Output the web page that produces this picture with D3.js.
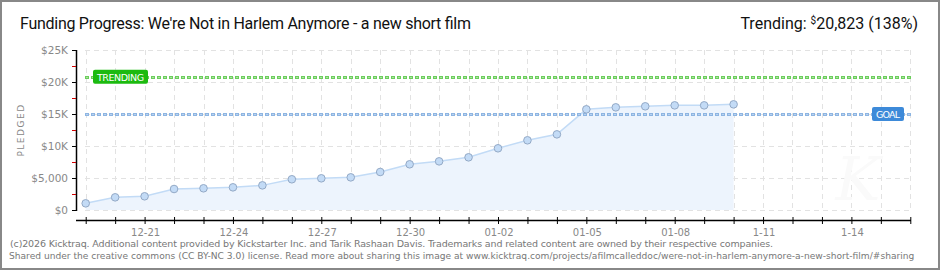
<!DOCTYPE html>
<html>
<head>
<meta charset="utf-8">
<script src="https://cdn.jsdelivr.net/npm/d3@7"></script>
<style>
  body { margin: 0; background: #fff; }
  svg { display: block; }
</style>
</head>
<body>
<div id="chart"></div>
<script>
// daily pledged totals, 12-19 .. 01-10
var days = ["2012-12-19","2012-12-20","2012-12-21","2012-12-22","2012-12-23","2012-12-24","2012-12-25",
  "2012-12-26","2012-12-27","2012-12-28","2012-12-29","2012-12-30","2012-12-31","2013-01-01",
  "2013-01-02","2013-01-03","2013-01-04","2013-01-05","2013-01-06","2013-01-07","2013-01-08",
  "2013-01-09","2013-01-10"];
var pledged = [1040, 1980, 2140, 3280, 3390, 3540, 3850, 4800, 4950, 5100, 5940, 7140,
  7600, 8230, 9640, 10890, 11820, 15730, 16040, 16200, 16350, 16350, 16510];
var goal = 15000;
var trending = 20823;
var yTicks = [0, 5000, 10000, 15000, 20000, 25000];
var yTickLabels = ["$0", "$5,000", "$10K", "$15K", "$20K", "$25K"];
var xLabelDays = ["2012-12-21","2012-12-24","2012-12-27","2012-12-30","2013-01-02",
  "2013-01-05","2013-01-08","2013-01-11","2013-01-14"];
var xLabels = ["12-21","12-24","12-27","12-30","01-02","01-05","01-08","1-11","1-14"];

var W = 940, H = 270;
var parse = d3.timeParse("%Y-%m-%d");
var data = days.map(function (d, i) { return { date: parse(d), value: pledged[i] }; });

var x = d3.scaleTime()
    .domain([parse("2012-12-19"), parse("2013-01-16")])
    .range([85.7, 910.3]);
var y = d3.scaleLinear()
    .domain([0, 25000])
    .range([210, 50]);

var svg = d3.select("#chart").append("svg")
    .attr("width", W)
    .attr("height", H);

var axisFont = "DejaVu Sans, sans-serif";

// grid
var allDays = d3.timeDay.range(parse("2012-12-19"), d3.timeDay.offset(parse("2013-01-16"), 1));
svg.append("g").selectAll("line")
    .data(allDays)
    .enter().append("line")
    .attr("x1", function (d) { return Math.round(x(d)) + 0.5; })
    .attr("x2", function (d) { return Math.round(x(d)) + 0.5; })
    .attr("y1", y(25000))
    .attr("y2", y(0))
    .attr("stroke", "#e2e2e2")
    .attr("stroke-dasharray", "5,4");
svg.append("g").selectAll("line")
    .data(yTicks)
    .enter().append("line")
    .attr("x1", 85)
    .attr("x2", 911)
    .attr("y1", function (d) { return Math.round(y(d)) + 0.5; })
    .attr("y2", function (d) { return Math.round(y(d)) + 0.5; })
    .attr("stroke", "#e2e2e2")
    .attr("stroke-dasharray", "5,4");

// watermark
svg.append("text")
    .attr("x", 858).attr("y", 200)
    .attr("text-anchor", "middle")
    .attr("font-family", "DejaVu Serif, serif")
    .attr("font-style", "italic")
    .attr("font-size", 60)
    .attr("fill", "#fafafa")
    .text("K");

// area + line
var area = d3.area()
    .x(function (d) { return x(d.date); })
    .y0(y(0))
    .y1(function (d) { return y(d.value); });
var line = d3.line()
    .x(function (d) { return x(d.date); })
    .y(function (d) { return y(d.value); });

svg.append("path")
    .datum(data)
    .attr("d", area)
    .attr("fill", "#edf4fd");
svg.append("path")
    .datum(data)
    .attr("d", line)
    .attr("fill", "none")
    .attr("stroke", "#c2dbf6")
    .attr("stroke-width", 1.5);

// goal + trending lines
function dotted(val, outer, inner) {
    svg.append("line")
        .attr("x1", 85).attr("x2", 911)
        .attr("y1", Math.round(y(val)) + 0.5).attr("y2", Math.round(y(val)) + 0.5)
        .attr("stroke", outer).attr("stroke-width", 3)
        .attr("stroke-dasharray", "4,2");
    svg.append("line")
        .attr("x1", 86).attr("x2", 911)
        .attr("y1", Math.round(y(val)) + 0.5).attr("y2", Math.round(y(val)) + 0.5)
        .attr("stroke", inner).attr("stroke-width", 1)
        .attr("stroke-dasharray", "2,4");
}
dotted(trending, "#6ccd5c", "#a9e49f");
dotted(goal, "#8db5e2", "#b9d2f0");

// points
svg.append("g").selectAll("circle")
    .data(data)
    .enter().append("circle")
    .attr("cx", function (d) { return x(d.date); })
    .attr("cy", function (d) { return y(d.value); })
    .attr("r", 3.8)
    .attr("fill", "#c3dbf6")
    .attr("stroke", "#93a9c6")
    .attr("stroke-width", 1);

// labels on goal/trending
function tag(xl, val, w, color, txt) {
    var yc = y(val);
    svg.append("rect")
        .attr("x", xl).attr("y", yc - 7)
        .attr("width", w).attr("height", 14)
        .attr("rx", 2)
        .attr("fill", color);
    svg.append("text")
        .attr("x", xl + 4).attr("y", yc + 4)
        .attr("font-family", axisFont)
        .attr("font-size", 9.5)
        .attr("fill", "#fff")
        .attr("textLength", w - 8)
        .text(txt);
}
tag(93, trending, 55, "#1cba10", "TRENDING");
tag(872, goal, 32, "#3d8ad9", "GOAL");

// y axis
svg.append("line")
    .attr("x1", 76.5).attr("x2", 76.5)
    .attr("y1", y(25000)).attr("y2", y(0) + 1)
    .attr("stroke", "#000").attr("stroke-width", 1.5);
var minor = d3.range(2500, 25000, 5000);
svg.append("g").selectAll("line")
    .data(minor)
    .enter().append("line")
    .attr("x1", 72).attr("x2", 76)
    .attr("y1", function (d) { return Math.round(y(d)) + 0.5; })
    .attr("y2", function (d) { return Math.round(y(d)) + 0.5; })
    .attr("stroke", "#d00000");
var yAxis = d3.axisLeft(y)
    .tickValues(yTicks)
    .tickSize(5)
    .tickFormat(function (d, i) { return yTickLabels[i]; });
var gy = svg.append("g")
    .attr("transform", "translate(77,0)")
    .call(yAxis);
gy.select(".domain").remove();
gy.selectAll(".tick line").attr("stroke", "#000");
gy.selectAll(".tick text")
    .attr("x", -9)
    .attr("fill", "#888")
    .attr("font-family", axisFont)
    .attr("font-size", 10.5);

svg.append("text")
    .attr("transform", "translate(24,130) rotate(-90)")
    .attr("text-anchor", "middle")
    .attr("font-family", axisFont)
    .attr("font-size", 9)
    .attr("letter-spacing", 1.5)
    .attr("fill", "#888")
    .text("PLEDGED");

// x axis
svg.append("line")
    .attr("x1", 76).attr("x2", 911)
    .attr("y1", 220.5).attr("y2", 220.5)
    .attr("stroke", "#000").attr("stroke-width", 1.5);
var xAxis = d3.axisBottom(x)
    .tickValues(allDays)
    .tickSize(4)
    .tickFormat("");
var gx = svg.append("g")
    .attr("transform", "translate(0,220)")
    .call(xAxis);
gx.select(".domain").remove();
gx.selectAll(".tick line").attr("stroke", "#000").attr("y1", -3);
svg.append("g").selectAll("text")
    .data(xLabelDays)
    .enter().append("text")
    .attr("x", function (d) { return x(parse(d)) + 1; })
    .attr("y", 236)
    .attr("text-anchor", "middle")
    .attr("font-family", axisFont)
    .attr("font-size", 10)
    .attr("fill", "#888")
    .text(function (d, i) { return xLabels[i]; });

// titles
var titleFont = "Liberation Sans Narrow, Roboto, sans-serif";
svg.append("text")
    .attr("x", 20).attr("y", 29)
    .attr("font-family", titleFont)
    .attr("font-size", 16)
    .attr("fill", "#111")
    .attr("textLength", 451)
    .text("Funding Progress: We're Not in Harlem Anymore - a new short film");

var tr = svg.append("text")
    .attr("x", 918).attr("y", 29)
    .attr("text-anchor", "end")
    .attr("font-family", titleFont)
    .attr("font-size", 16)
    .attr("fill", "#111");
tr.append("tspan").text("Trending:  ");
tr.append("tspan").attr("font-size", 10).attr("dy", -5).text("$");
tr.append("tspan").attr("dy", 5).text("20,823 (138%)");

// footer
var footFont = "DejaVu Sans, sans-serif";
svg.append("text")
    .attr("x", 10).attr("y", 247)
    .attr("font-family", footFont)
    .attr("font-size", 9.5)
    .attr("fill", "#777")
    .attr("textLength", 763)
    .text("(c)2026 Kicktraq. Additional content provided by Kickstarter Inc. and Tarik Rashaan Davis. Trademarks and related content are owned by their respective companies.");
svg.append("text")
    .attr("x", 9).attr("y", 259)
    .attr("font-family", footFont)
    .attr("font-size", 9.1)
    .attr("fill", "#777")
    .text("Shared under the creative commons (CC BY-NC 3.0) license. Read more about sharing this image at www.kicktraq.com/projects/afilmcalleddoc/were-not-in-harlem-anymore-a-new-short-film/#sharing");

// frame
svg.append("rect")
    .attr("x", 1).attr("y", 1)
    .attr("width", W - 2).attr("height", H - 2)
    .attr("fill", "none")
    .attr("stroke", "#888")
    .attr("stroke-width", 2);
</script>
</body>
</html>
